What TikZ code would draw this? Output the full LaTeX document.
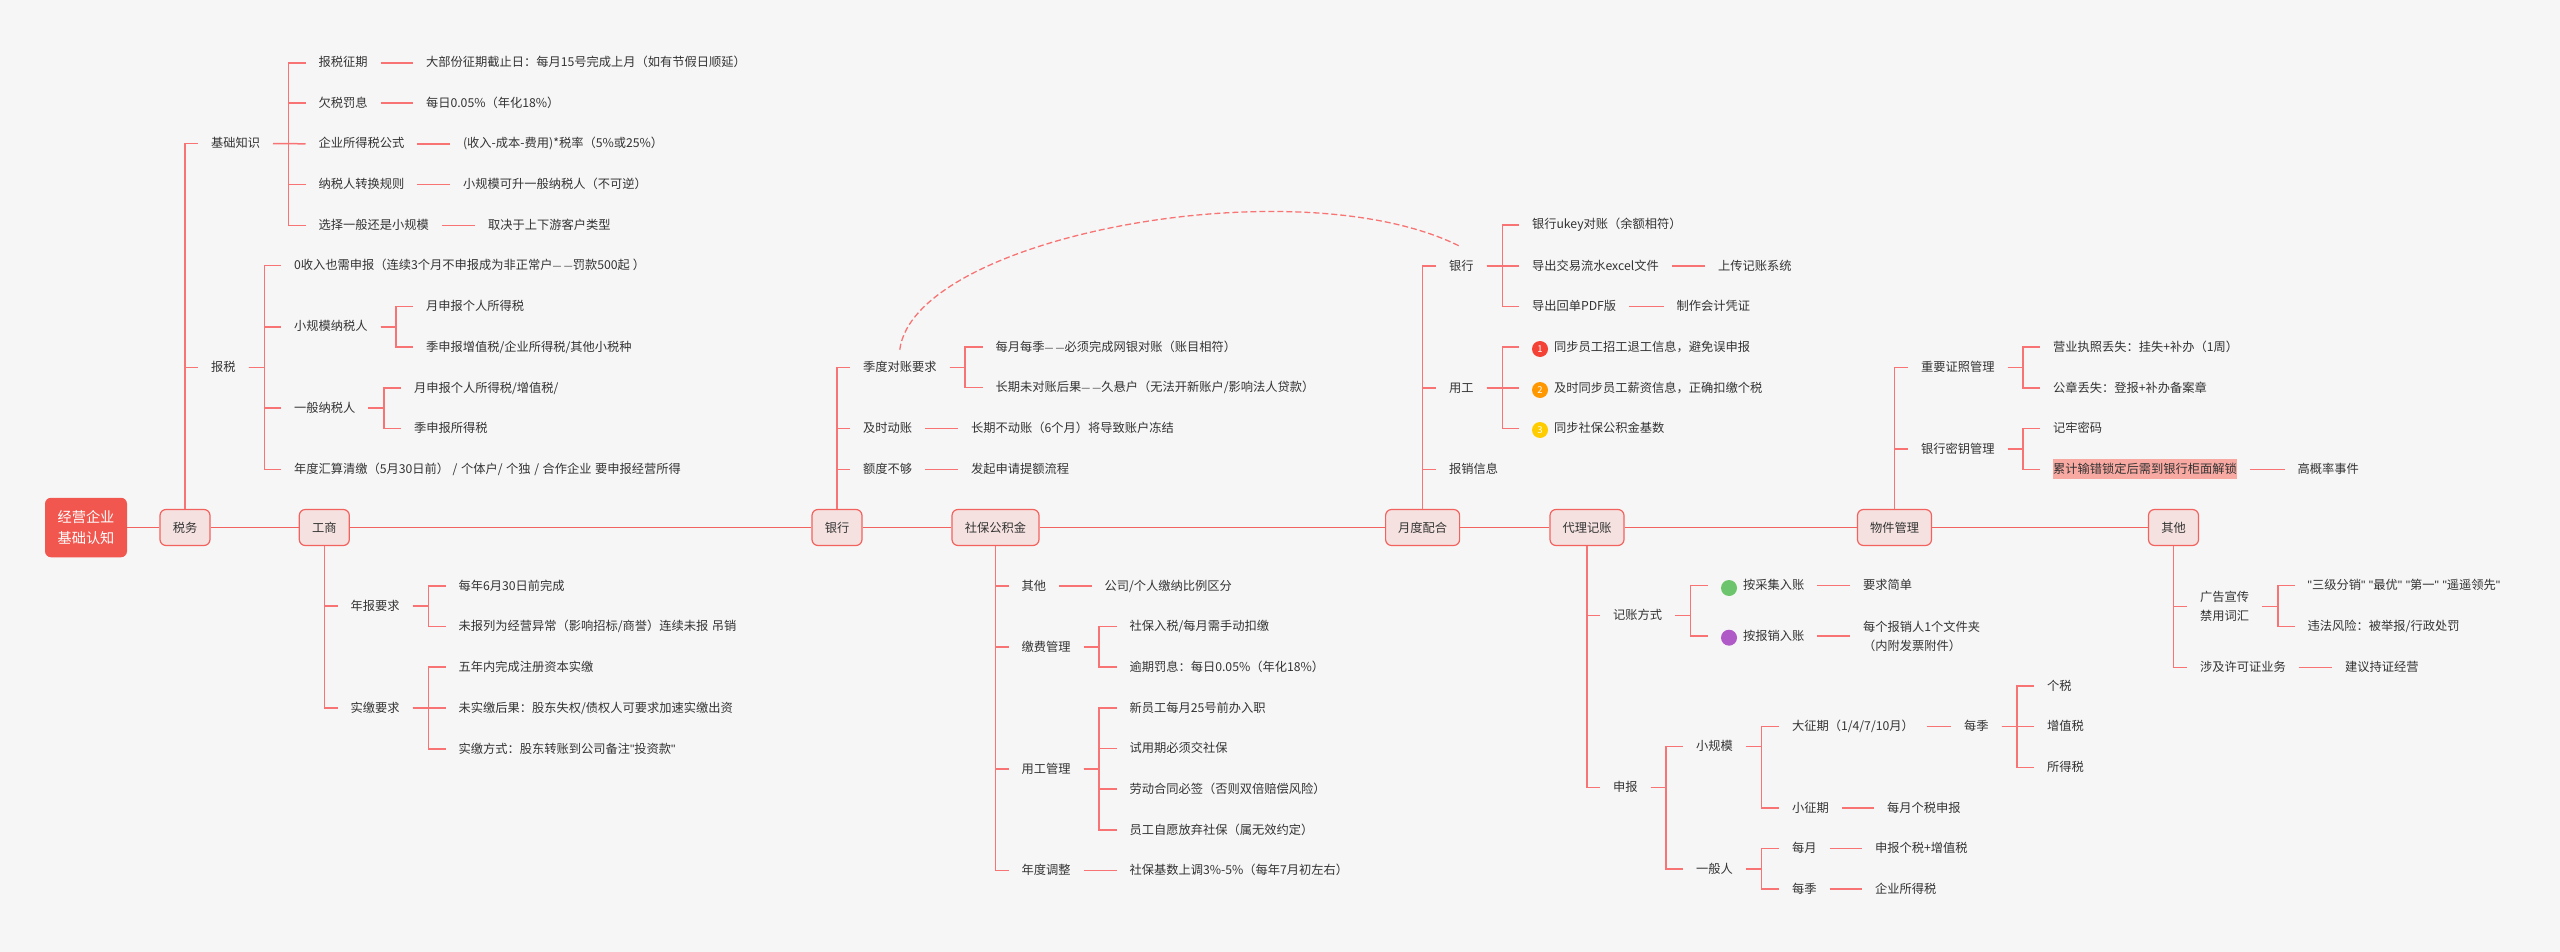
\documentclass[tikz,border=0pt]{standalone}
\usepackage{fontspec}
\setmainfont[WordSpace=1.3]{Noto Sans CJK SC}
\newfontfamily\latfont{Liberation Sans}
\newcommand{\dbldash}{{\fontsize{10}{15}\selectfont —\kern2.3pt—}}
\newcommand{\qt}{{\latfont"}}
\definecolor{bgc}{HTML}{F6F6F6}
\definecolor{ink}{HTML}{333333}
\definecolor{mainc}{HTML}{F2625E}
\definecolor{linkc}{HTML}{F87474}
\definecolor{boxc}{HTML}{F5E2E0}
\definecolor{rootc}{HTML}{F2574F}
\definecolor{markc}{HTML}{F8A9A2}
\definecolor{greenc}{HTML}{6CC56C}
\definecolor{purplec}{HTML}{B05AC8}
\definecolor{redc}{HTML}{F44336}
\definecolor{orangec}{HTML}{FF9800}
\definecolor{yellowc}{HTML}{FFCC00}
\tikzset{
  item/.style={anchor=west,inner sep=0pt,outer xsep=13pt,outer ysep=0pt,text height=10pt,text depth=2pt,text=ink,font=\fontsize{12.25}{15}\selectfont},
  marked/.style={item,fill=markc,inner ysep=4pt},
  twoline/.style={anchor=west,inner sep=0pt,outer xsep=13pt,outer ysep=0pt,align=left,text=ink,font=\fontsize{12.25}{19}\selectfont},
  topic/.style={draw=mainc,fill=boxc,line width=1.2pt,rounded corners=6pt,inner xsep=0pt,inner ysep=0pt,minimum height=36pt,text=ink,font=\fontsize{12.25}{15}\selectfont},
  rootbox/.style={fill=rootc,rounded corners=6pt,inner sep=0pt,minimum width=82pt,minimum height=59.5pt,align=center,text=white,font=\fontsize{14.2}{21.4}\selectfont},
  dot/.style={circle,inner sep=0pt,minimum size=16pt,outer sep=13pt,text=white,font=\fontsize{9.5}{10}\selectfont},
  mainline/.style={mainc,line width=1.5pt},
  link/.style={linkc,line width=1.5pt},
  dashlink/.style={linkc,line width=1.3pt,dash pattern=on 6pt off 3pt},
}
\begin{document}
\begin{tikzpicture}[x=1pt,y=-1pt]
\useasboundingbox (0,0) rectangle (2560,952);
\fill[bgc] (0,0) rectangle (2560,952);
\node[rootbox] (root) at (86,527.5) {经营企业\\基础认知};
\node[topic,minimum width=50pt] (shuiwu) at (185,527.5) {税务};
\node[topic,minimum width=50pt] (gongshang) at (324.3,527.5) {工商};
\node[topic,minimum width=50pt] (yinhang) at (837,527.5) {银行};
\node[topic,minimum width=87pt] (shebao) at (995.5,527.5) {社保公积金};
\node[topic,minimum width=74pt] (yuedu) at (1422.6,527.5) {月度配合};
\node[topic,minimum width=74pt] (daili) at (1587,527.5) {代理记账};
\node[topic,minimum width=74pt] (wujian) at (1894.5,527.5) {物件管理};
\node[topic,minimum width=50pt] (qita) at (2173.5,527.5) {其他};
\draw[mainline] (root) -- (shuiwu) -- (gongshang) -- (yinhang) -- (shebao) -- (yuedu) -- (daili) -- (wujian) -- (qita);
% shuiwu
\node[item] (jichu) at (198,143.6) {基础知识};
\node[item] (baoshui) at (198,367.5) {报税};
\draw[link] (shuiwu.north) |- (jichu.west);
\draw[link] (shuiwu.north) |- (baoshui.west);
\node[item] (zhengqi) at (305.5,62.8) {报税征期};
\node[item] (qianshui) at (305.5,103.2) {欠税罚息};
\node[item] (gongshi) at (305.5,143.8) {企业所得税公式};
\node[item] (zhuanhuan) at (305.5,184.7) {纳税人转换规则};
\node[item] (xuanze) at (305.5,225.5) {选择一般还是小规模};
\node[item] (zhengqi2) at (413,62.8) {大部份征期截止日：每月15号完成上月（如有节假日顺延）};
\node[item] (qianshui2) at (413,103.2) {每日0.05\%（年化18\%）};
\node[item] (gongshi2) at (450,143.8) {(收入-成本-费用)*税率（5\%或25\%）};
\node[item] (zhuanhuan2) at (450,184.7) {小规模可升一般纳税人（不可逆）};
\node[item] (xuanze2) at (475,225.5) {取决于上下游客户类型};
\draw[link] (jichu.east) -- ++(15.5,0) |- (zhengqi.west);
\draw[link] (jichu.east) -- ++(15.5,0) |- (qianshui.west);
\draw[link] (jichu.east) -- (gongshi.west);
\draw[link] (jichu.east) -- ++(15.5,0) |- (zhuanhuan.west);
\draw[link] (jichu.east) -- ++(15.5,0) |- (xuanze.west);
\draw[link] (zhengqi.east) -- (zhengqi2.west);
\draw[link] (qianshui.east) -- (qianshui2.west);
\draw[link] (gongshi.east) -- (gongshi2.west);
\draw[link] (zhuanhuan.east) -- (zhuanhuan2.west);
\draw[link] (xuanze.east) -- (xuanze2.west);
\node[item] (lingshouru) at (281,265.7) {0收入也需申报（连续3个月不申报成为非正常户\dbldash 罚款500起\kern3pt ）};
\node[item] (xiaoguimo) at (281,326.8) {小规模纳税人};
\node[item] (yiban) at (281,408) {一般纳税人};
\node[item] (huisuan) at (281,469.3) {年度汇算清缴（5月30日前） /  个体户/ 个独 / 合作企业 要申报经营所得};
\node[item] (xgm1) at (413,306.4) {月申报个人所得税};
\node[item] (xgm2) at (413,347) {季申报增值税/企业所得税/其他小税种};
\node[item] (yb1) at (401,388) {月申报个人所得税/增值税/};
\node[item] (yb2) at (401,428.6) {季申报所得税};
\draw[link] (baoshui.east) -- ++(16,0) |- (lingshouru.west);
\draw[link] (baoshui.east) -- ++(16,0) |- (xiaoguimo.west);
\draw[link] (baoshui.east) -- ++(16,0) |- (yiban.west);
\draw[link] (baoshui.east) -- ++(16,0) |- (huisuan.west);
\draw[link] (xiaoguimo.east) -- ++(15.5,0) |- (xgm1.west);
\draw[link] (xiaoguimo.east) -- ++(15.5,0) |- (xgm2.west);
\draw[link] (yiban.east) -- ++(15.5,0) |- (yb1.west);
\draw[link] (yiban.east) -- ++(15.5,0) |- (yb2.west);
% gongshang
\node[item] (nianbao) at (337.5,606) {年报要求};
\node[item] (shijiao) at (337.5,708) {实缴要求};
\draw[link] (gongshang.south) |- (nianbao.west);
\draw[link] (gongshang.south) |- (shijiao.west);
\node[item] (nb1) at (445.5,586) {每年6月30日前完成};
\node[item] (nb2) at (445.5,626.7) {未报列为经营异常（影响招标/商誉）连续未报 吊销};
\node[item] (sj1) at (445.5,667) {五年内完成注册资本实缴};
\node[item] (sj2) at (445.5,708) {未实缴后果：股东失权/债权人可要求加速实缴出资};
\node[item] (sj3) at (445.5,749) {实缴方式：股东转账到公司备注\qt 投资款\qt};
\draw[link] (nianbao.east) -- ++(16,0) |- (nb1.west);
\draw[link] (nianbao.east) -- ++(16,0) |- (nb2.west);
\draw[link] (shijiao.east) -- ++(16,0) |- (sj1.west);
\draw[link] (shijiao.east) -- (sj2.west);
\draw[link] (shijiao.east) -- ++(16,0) |- (sj3.west);
% yinhang
\node[item] (jidu) at (850,367.7) {季度对账要求};
\node[item] (jishi) at (850,428.7) {及时动账};
\node[item] (edu) at (850,469.3) {额度不够};
\draw[link] (yinhang.north) |- (jidu.west);
\draw[link] (yinhang.north) |- (jishi.west);
\draw[link] (yinhang.north) |- (edu.west);
\node[item] (jd1) at (982.5,347) {每月每季\dbldash 必须完成网银对账（账目相符）};
\node[item] (jd2) at (982.5,387.7) {长期未对账后果\dbldash 久悬户（无法开新账户/影响法人贷款）};
\node[item] (jishi2) at (958,428.7) {长期不动账（6个月）将导致账户冻结};
\node[item] (edu2) at (958,469.3) {发起申请提额流程};
\draw[link] (jidu.east) -- ++(15.5,0) |- (jd1.west);
\draw[link] (jidu.east) -- ++(15.5,0) |- (jd2.west);
\draw[link] (jishi.east) -- (jishi2.west);
\draw[link] (edu.east) -- (edu2.west);
% shebao
\node[item] (sbqita) at (1008.5,586) {其他};
\node[item] (jiaofei) at (1008.5,647) {缴费管理};
\node[item] (yonggong) at (1008.5,769) {用工管理};
\node[item] (tiaozheng) at (1008.5,870.7) {年度调整};
\draw[link] (shebao.south) |- (sbqita.west);
\draw[link] (shebao.south) |- (jiaofei.west);
\draw[link] (shebao.south) |- (yonggong.west);
\draw[link] (shebao.south) |- (tiaozheng.west);
\node[item] (sbqita2) at (1091.5,586) {公司/个人缴纳比例区分};
\node[item] (jf1) at (1116.5,626.7) {社保入税/每月需手动扣缴};
\node[item] (jf2) at (1116.5,667) {逾期罚息：每日0.05\%（年化18\%）};
\node[item] (yg1) at (1116.5,708) {新员工每月25号前办入职};
\node[item] (yg2) at (1116.5,748.7) {试用期必须交社保};
\node[item] (yg3) at (1116.5,789) {劳动合同必签（否则双倍赔偿风险）};
\node[item] (yg4) at (1116.5,830) {员工自愿放弃社保（属无效约定）};
\node[item] (tiaozheng2) at (1116.5,870.7) {社保基数上调3\%-5\%（每年7月初左右）};
\draw[link] (sbqita.east) -- (sbqita2.west);
\draw[link] (jiaofei.east) -- ++(15.5,0) |- (jf1.west);
\draw[link] (jiaofei.east) -- ++(15.5,0) |- (jf2.west);
\draw[link] (yonggong.east) -- ++(15.5,0) |- (yg1.west);
\draw[link] (yonggong.east) -- ++(15.5,0) |- (yg2.west);
\draw[link] (yonggong.east) -- ++(15.5,0) |- (yg3.west);
\draw[link] (yonggong.east) -- ++(15.5,0) |- (yg4.west);
\draw[link] (tiaozheng.east) -- (tiaozheng2.west);
% yuedu
\node[item] (ydyinhang) at (1436,266) {银行};
\node[item] (ydyonggong) at (1436,388) {用工};
\node[item] (baoxiao) at (1436,469.3) {报销信息};
\draw[link] (yuedu.north) |- (ydyinhang.west);
\draw[link] (yuedu.north) |- (ydyonggong.west);
\draw[link] (yuedu.north) |- (baoxiao.west);
\node[item] (ukey) at (1519,225) {银行ukey对账（余额相符）};
\node[item] (liushui) at (1519,266) {导出交易流水excel文件};
\node[item] (huidan) at (1519,306.7) {导出回单PDF版};
\node[item] (liushui2) at (1705,266) {上传记账系统};
\node[item] (huidan2) at (1663.7,306.7) {制作会计凭证};
\draw[link] (ydyinhang.east) -- ++(16,0) |- (ukey.west);
\draw[link] (ydyinhang.east) -- (liushui.west);
\draw[link] (ydyinhang.east) -- ++(16,0) |- (huidan.west);
\draw[link] (liushui.east) -- (liushui2.west);
\draw[link] (huidan.east) -- (huidan2.west);
\node[item] (tb1) at (1541,347) {同步员工招工退工信息，避免误申报};
\node[item] (tb2) at (1541,388) {及时同步员工薪资信息，正确扣缴个税};
\node[item] (tb3) at (1541,428.7) {同步社保公积金基数};
\node[dot,fill=redc] (dot1) at (1540,349) {1};
\node[dot,fill=orangec] (dot2) at (1540,390) {2};
\node[dot,fill=yellowc] (dot3) at (1540,430) {3};
\draw[link] (ydyonggong.east) -- ++(16,0) |- (dot1.west |- tb1);
\draw[link] (ydyonggong.east) -- (dot2.west |- tb2);
\draw[link] (ydyonggong.east) -- ++(16,0) |- (dot3.west |- tb3);
\draw[dashlink] ([yshift=12pt]jidu.north) .. controls +(15,-114) and +(-160,-82) .. ([yshift=13pt]ydyinhang.north);
% daili
\node[item] (jizhang) at (1600,615.7) {记账方式};
\node[item] (shenbao) at (1600,787.3) {申报};
\draw[link] (daili.south) |- (jizhang.west);
\draw[link] (daili.south) |- (shenbao.west);
\node[item] (caiji) at (1730,585.7) {按采集入账};
\node[item] (baoxiaoru) at (1730,636) {按报销入账};
\node[dot,fill=greenc] (dotg) at (1729,588) {};
\node[dot,fill=purplec] (dotp) at (1729,637.7) {};
\node[item] (caiji2) at (1850,585.7) {要求简单};
\node[twoline] (baoxiaoru2) at (1850,636) {每个报销人1个文件夹\\（内附发票附件）};
\draw[link] (jizhang.east) -- ++(15.5,0) |- (dotg.west |- caiji);
\draw[link] (jizhang.east) -- ++(15.5,0) |- (dotp.west |- baoxiaoru);
\draw[link] (caiji.east) -- (caiji2.west);
\draw[link] (baoxiaoru.east) -- (baoxiaoru2.west);
\node[item] (sbxiao) at (1683,746.7) {小规模};
\node[item] (sbyiban) at (1683,869) {一般人};
\draw[link] (shenbao.east) -- ++(15.5,0) |- (sbxiao.west);
\draw[link] (shenbao.east) -- ++(15.5,0) |- (sbyiban.west);
\node[item] (dazheng) at (1779,726.3) {大征期（1/4/7/10月）};
\node[item] (xiaozheng) at (1779,808) {小征期};
\draw[link] (sbxiao.east) -- ++(15.5,0) |- (dazheng.west);
\draw[link] (sbxiao.east) -- ++(15.5,0) |- (xiaozheng.west);
\node[item] (meiji) at (1951,726.3) {每季};
\node[item] (geshui) at (2034,686) {个税};
\node[item] (zengzhi) at (2034,726.3) {增值税};
\node[item] (suode) at (2034,767.3) {所得税};
\draw[link] (dazheng.east) -- (meiji.west);
\draw[link] (meiji.east) -- ++(15.5,0) |- (geshui.west);
\draw[link] (meiji.east) -- (zengzhi.west);
\draw[link] (meiji.east) -- ++(15.5,0) |- (suode.west);
\node[item] (xiaozheng2) at (1874,808) {每月个税申报};
\draw[link] (xiaozheng.east) -- (xiaozheng2.west);
\node[item] (ybyue) at (1779,848.7) {每月};
\node[item] (ybji) at (1779,889) {每季};
\node[item] (ybyue2) at (1862,848.7) {申报个税+增值税};
\node[item] (ybji2) at (1862,889) {企业所得税};
\draw[link] (sbyiban.east) -- ++(15.5,0) |- (ybyue.west);
\draw[link] (sbyiban.east) -- ++(15.5,0) |- (ybji.west);
\draw[link] (ybyue.east) -- (ybyue2.west);
\draw[link] (ybji.east) -- (ybji2.west);
% wujian
\node[item] (zhengzhao) at (1908,367.7) {重要证照管理};
\node[item] (miyao) at (1908,449) {银行密钥管理};
\draw[link] (wujian.north) |- (zhengzhao.west);
\draw[link] (wujian.north) |- (miyao.west);
\node[item] (zz1) at (2040,347) {营业执照丢失：挂失+补办（1周）};
\node[item] (zz2) at (2040,388) {公章丢失：登报+补办备案章};
\node[item] (my1) at (2040,428.7) {记牢密码};
\node[marked] (my2) at (2040,469.3) {累计输错锁定后需到银行柜面解锁};
\node[item] (my3) at (2284.5,469.3) {高概率事件};
\draw[link] (zhengzhao.east) -- ++(15.5,0) |- (zz1.west);
\draw[link] (zhengzhao.east) -- ++(15.5,0) |- (zz2.west);
\draw[link] (miyao.east) -- ++(15.5,0) |- (my1.west);
\draw[link] (miyao.east) -- ++(15.5,0) |- (my2.west);
\draw[link] (my2.east) -- (my3.west);
% qita
\node[twoline] (guanggao) at (2187,606.3) {广告宣传\\禁用词汇};
\node[item] (xuke) at (2187,667.3) {涉及许可证业务};
\draw[link] (qita.south) |- (guanggao.west);
\draw[link] (qita.south) |- (xuke.west);
\node[item] (gg1) at (2294.7,585.7) {\qt 三级分销\qt{} \qt 最优\qt{} \qt 第一\qt{} \qt 遥遥领先\qt};
\node[item] (gg2) at (2294.7,626.7) {违法风险：被举报/行政处罚};
\node[item] (xuke2) at (2332,667.3) {建议持证经营};
\draw[link] (guanggao.east) -- ++(16,0) |- (gg1.west);
\draw[link] (guanggao.east) -- ++(16,0) |- (gg2.west);
\draw[link] (xuke.east) -- (xuke2.west);
\end{tikzpicture}
\end{document}
